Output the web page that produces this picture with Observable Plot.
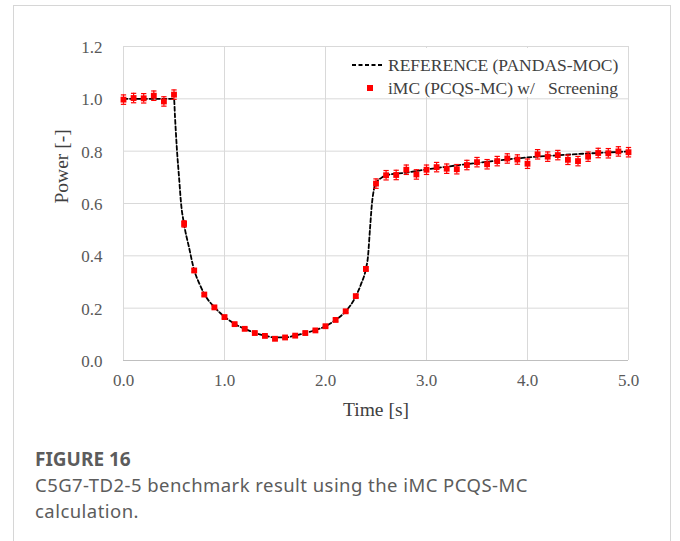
<!DOCTYPE html>
<html>
<head>
<meta charset="utf-8">
<script src="https://cdn.jsdelivr.net/npm/d3@7"></script>
<script src="https://cdn.jsdelivr.net/npm/@observablehq/plot@0.6"></script>
<style>
  html, body { margin: 0; padding: 0; background: #fff; }
  body { position: relative; width: 680px; height: 541px; overflow: hidden; }
  #card { position: absolute; left: 13px; top: 5px; width: 658px; height: 600px;
          border: 1px solid #d6d6d6; box-sizing: border-box; }
  #chart { position: absolute; left: 0; top: 0; }
  #chart svg, #chart svg text { font-family: "Liberation Serif", "Times New Roman", serif !important; }
  #legend { position: absolute; left: 345px; top: 48px; width: 283px; height: 49px;
            background: #fff; font-family: "Liberation Serif", serif; font-size: 17.5px;
            color: #404040; }
  #legend .row { position: absolute; left: 0; white-space: pre; line-height: 20px; }
  #legend svg { position: absolute; }
  .cap { position: absolute; left: 35px; font-family: "Noto Sans", sans-serif; color: #5c5c5c;
         white-space: nowrap; }
  .cap.title { top: 446px; font-weight: 700; font-size: 19px; line-height: 26px; }
  .cap.line1 { top: 472px; font-size: 18.5px; line-height: 25px; letter-spacing: 0.45px; }
  .cap.line2 { top: 497.5px; font-size: 18.5px; line-height: 25px; letter-spacing: 0.45px; }
</style>
</head>
<body>
<div id="card"></div>
<div id="chart"></div>
<div id="legend"></div>
<div class="cap title">FIGURE 16</div>
<div class="cap line1">C5G7-TD2-5 benchmark result using the iMC PCQS-MC</div>
<div class="cap line2">calculation.</div>
<script>
// Reference solution (PANDAS-MOC): time [s] and normalised power
const refTime = [0.0, 0.5, 0.51, 0.53, 0.55, 0.57, 0.60, 0.65, 0.70, 0.75, 0.80, 0.90,
  1.00, 1.10, 1.20, 1.30, 1.40, 1.50, 1.60, 1.70, 1.80, 1.90, 2.00, 2.10, 2.20, 2.30,
  2.35, 2.40, 2.42, 2.44, 2.46, 2.48, 2.50, 2.55, 2.60, 2.80, 3.00, 3.50, 4.00, 4.50, 5.00];
const refPower = [1.0, 1.0, 0.93, 0.80, 0.70, 0.60, 0.52, 0.43, 0.345, 0.295, 0.254, 0.204,
  0.167, 0.140, 0.121, 0.106, 0.095, 0.088, 0.088, 0.095, 0.105, 0.116, 0.131, 0.155, 0.188, 0.245,
  0.290, 0.350, 0.395, 0.500, 0.600, 0.655, 0.678, 0.697, 0.708, 0.718, 0.730, 0.755, 0.776, 0.789, 0.799];

// iMC (PCQS-MC) with screening: time [s], power and one-sigma uncertainty
const mcTime = [0.0, 0.1, 0.2, 0.3, 0.4, 0.5, 0.6, 0.7, 0.8, 0.9, 1.0, 1.1, 1.2, 1.3, 1.4,
  1.5, 1.6, 1.7, 1.8, 1.9, 2.0, 2.1, 2.2, 2.3, 2.4, 2.5, 2.6, 2.7, 2.8, 2.9, 3.0, 3.1, 3.2,
  3.3, 3.4, 3.5, 3.6, 3.7, 3.8, 3.9, 4.0, 4.1, 4.2, 4.3, 4.4, 4.5, 4.6, 4.7, 4.8, 4.9, 5.0];
const mcPower = [0.997, 1.003, 1.002, 1.012, 0.990, 1.016, 0.522, 0.344, 0.252, 0.203, 0.166,
  0.139, 0.121, 0.105, 0.094, 0.083, 0.088, 0.095, 0.105, 0.115, 0.131, 0.155, 0.188, 0.246,
  0.350, 0.676, 0.708, 0.709, 0.729, 0.711, 0.729, 0.739, 0.733, 0.731, 0.747, 0.758, 0.750,
  0.762, 0.772, 0.768, 0.752, 0.788, 0.779, 0.785, 0.767, 0.762, 0.779, 0.793, 0.792, 0.799, 0.796];
const mcError = [0.018, 0.018, 0.018, 0.018, 0.018, 0.018, 0.012, 0.006, 0.005, 0.005, 0.005,
  0.004, 0.004, 0.004, 0.004, 0.004, 0.004, 0.004, 0.004, 0.004, 0.004, 0.005, 0.005, 0.006,
  0.008, 0.018, 0.018, 0.018, 0.018, 0.018, 0.018, 0.018, 0.018, 0.018, 0.018, 0.018, 0.018,
  0.018, 0.018, 0.018, 0.018, 0.018, 0.018, 0.018, 0.018, 0.018, 0.018, 0.018, 0.018, 0.018, 0.018];

const xTicks = [0, 1, 2, 3, 4, 5];
const yTicks = [0, 0.2, 0.4, 0.6, 0.8, 1.0, 1.2];
const xTitle = "Time [s]";
const yTitle = "Power [-]";
const legendLabels = ["REFERENCE (PANDAS-MOC)", "iMC (PCQS-MC) w/   Screening"];

const ref = refTime.map((t, i) => ({t, p: refPower[i]}));
const mc = mcTime.map((t, i) => ({t, p: mcPower[i], lo: mcPower[i] - mcError[i], hi: mcPower[i] + mcError[i]}));

// horizontal cap drawn at the ends of each error bar
const cap = {
  draw(ctx, size) {
    const w = Math.sqrt(size) / 2;
    ctx.moveTo(-w, 0);
    ctx.lineTo(w, 0);
  }
};

const fmt = d => d.toFixed(1);
const serif = "Liberation Serif, Times New Roman, serif";

const chart = Plot.plot({
  width: 680,
  height: 420,
  marginLeft: 123,
  marginRight: 52,
  marginTop: 46,
  marginBottom: 60,
  style: {fontFamily: serif, fontSize: "17px", color: "#595959", background: "transparent"},
  x: {domain: [0, 5]},
  y: {domain: [0, 1.2]},
  marks: [
    Plot.gridX(xTicks, {stroke: "#d9d9d9", strokeOpacity: 1}),
    Plot.gridY(yTicks, {stroke: "#d9d9d9", strokeOpacity: 1}),
    Plot.ruleY([0], {stroke: "#bfbfbf"}),
    Plot.axisX({ticks: xTicks, tickFormat: fmt, tickSize: 0, tickPadding: 13, label: null,
      fontSize: 17, fill: "#595959"}),
    Plot.axisY({ticks: yTicks, tickFormat: fmt, tickSize: 0, tickPadding: 21, label: null, dy: 1,
      fontSize: 17, fill: "#595959"}),
    Plot.text([xTitle], {frameAnchor: "bottom", dy: 49, lineAnchor: "middle",
      fontSize: 19.5, fill: "#404040"}),
    Plot.text([yTitle], {frameAnchor: "left", dx: -62, rotate: -90,
      fontSize: 19.5, fill: "#404040"}),
    Plot.line(ref, {x: "t", y: "p", stroke: "#000", strokeWidth: 1.8, strokeDasharray: "4,2.5", curve: "monotone-x"}),
    Plot.ruleX(mc, {x: "t", y1: "lo", y2: "hi", stroke: "#ff0000", strokeWidth: 1.2}),
    Plot.dot(mc, {x: "t", y: "lo", symbol: cap, r: 3, stroke: "#ff0000", strokeWidth: 1.2, fill: "none"}),
    Plot.dot(mc, {x: "t", y: "hi", symbol: cap, r: 3, stroke: "#ff0000", strokeWidth: 1.2, fill: "none"}),
    Plot.dot(mc, {x: "t", y: "p", symbol: "square", r: 3.3, fill: "#ff0000", stroke: "none"})
  ]
});
document.getElementById("chart").appendChild(chart);

// legend box in the upper right of the plot area
const legend = document.getElementById("legend");
legend.innerHTML = `
  <svg width="34" height="12" style="left:6px;top:11px"><line x1="1" x2="32" y1="6" y2="6" stroke="#000" stroke-width="1.8" stroke-dasharray="4,2.5"/></svg>
  <svg width="10" height="10" style="left:20px;top:35px"><rect x="2" y="2" width="6" height="6" fill="#ff0000"/></svg>
  <div class="row" style="left:43px;top:7px"></div>
  <div class="row" style="left:43px;top:30px"></div>`;
const rows = legend.querySelectorAll(".row");
rows[0].textContent = legendLabels[0];
rows[1].textContent = legendLabels[1];
</script>
</body>
</html>
